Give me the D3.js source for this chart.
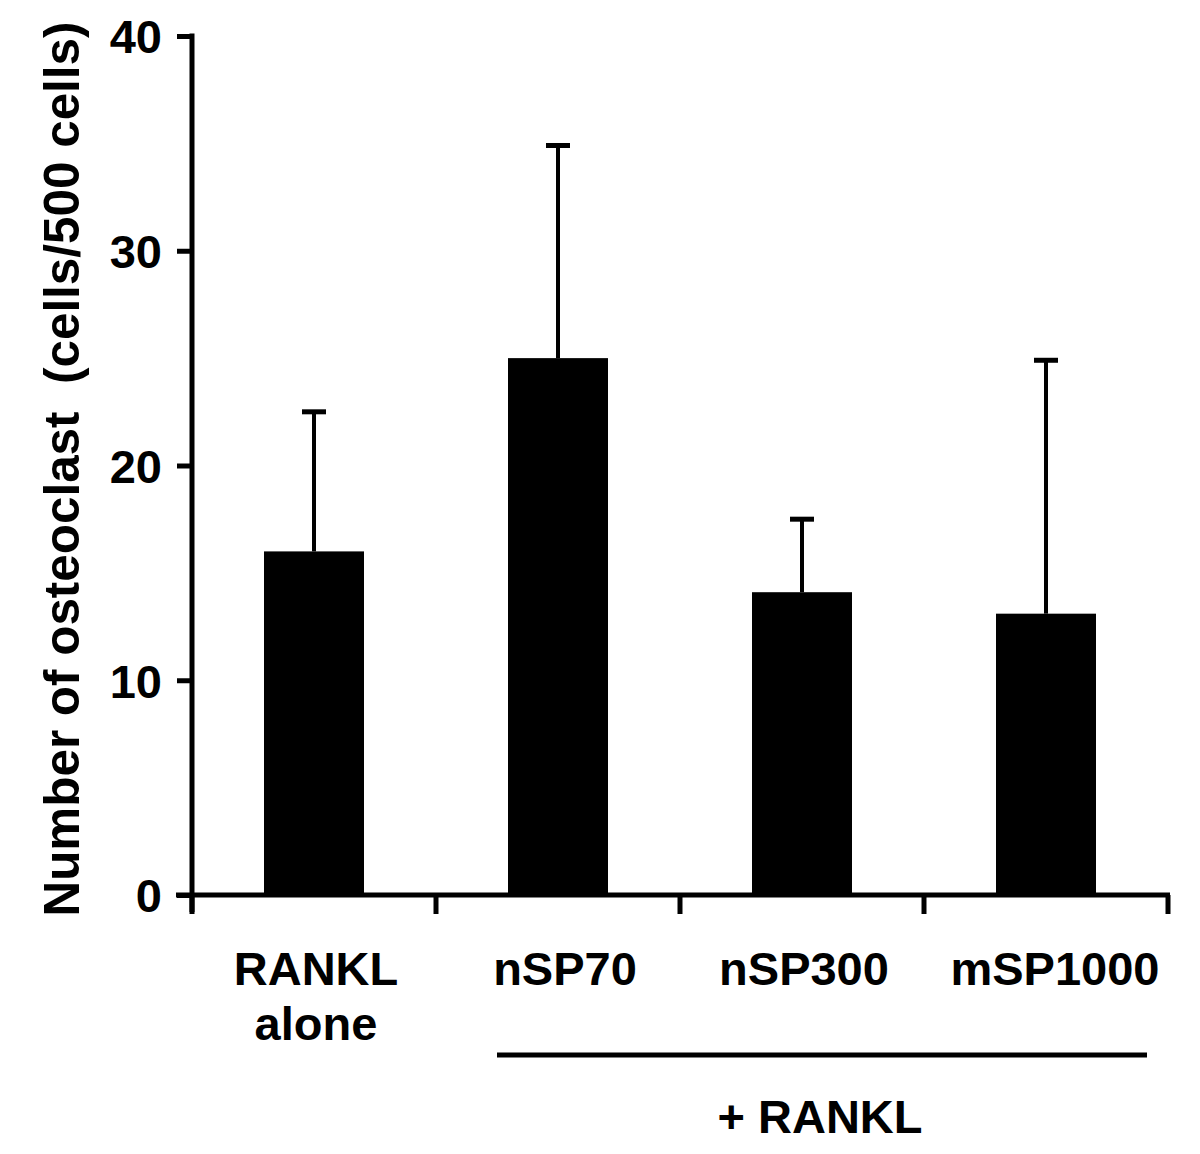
<!DOCTYPE html>
<html><head><meta charset="utf-8">
<script src="https://cdn.jsdelivr.net/npm/d3@7"></script>
<style>body{margin:0;background:#fff}</style>
</head><body>
<script>
const categories = ["RANKL alone", "nSP70", "nSP300", "mSP1000"];
const labelLines = [["RANKL", "alone"], ["nSP70"], ["nSP300"], ["mSP1000"]];
const means = [16, 25, 14.1, 13.1];
const errors = [6.5, 9.9, 3.4, 11.8];
const yTicks = [0, 10, 20, 30, 40];
const yTitle = "Number of osteoclast\u00a0\u00a0(cells/500 cells)";
const groupLabel = "+ RANKL";

const W = 1200, H = 1154;
const svg = d3.select("body").append("svg").attr("width", W).attr("height", H);
const font = "'Liberation Sans', Arial, sans-serif";

const x = d3.scaleBand().domain(categories).range([192, 1168]).padding(0);
const y = d3.scaleLinear().domain([0, 40]).range([895, 36]);
const barW = 100;
const labelShift = [2, 7, 2, 9];

// bars
svg.selectAll("rect.bar").data(categories).enter().append("rect")
  .attr("x", (d) => x(d) + x.bandwidth() / 2 - barW / 2)
  .attr("y", (d, i) => y(means[i]))
  .attr("width", barW)
  .attr("height", (d, i) => y(0) - y(means[i]))
  .attr("fill", "#000");

// error bars
categories.forEach((c, i) => {
  const cx = x(c) + x.bandwidth() / 2;
  svg.append("line").attr("x1", cx).attr("x2", cx)
    .attr("y1", y(means[i])).attr("y2", y(means[i] + errors[i]))
    .attr("stroke", "#000").attr("stroke-width", 4);
  svg.append("line").attr("x1", cx - 12).attr("x2", cx + 12)
    .attr("y1", y(means[i] + errors[i])).attr("y2", y(means[i] + errors[i]))
    .attr("stroke", "#000").attr("stroke-width", 5);
});

// y axis
const yAxis = d3.axisLeft(y).tickValues(yTicks).tickSize(15).tickPadding(15);
const gy = svg.append("g").attr("transform", "translate(192,0)").call(yAxis);
gy.select(".domain").attr("d", "M0," + (y(40) - 2.5) + "V" + 912).attr("stroke-width", 5).attr("stroke", "#000");
gy.selectAll(".tick line").attr("stroke-width", 5).attr("stroke", "#000");
gy.selectAll(".tick text").attr("font-family", font).attr("font-weight", "bold")
  .attr("font-size", 47).attr("fill", "#000").attr("dy", "0.36em");

// x axis
const bounds = categories.map((c) => x(c)).concat([x.range()[1]]);
svg.append("line").attr("x1", 176).attr("x2", 1170).attr("y1", 895).attr("y2", 895)
  .attr("stroke", "#000").attr("stroke-width", 5);
bounds.forEach((b) => {
  svg.append("line").attr("x1", b).attr("x2", b).attr("y1", 895).attr("y2", 914)
    .attr("stroke", "#000").attr("stroke-width", 5);
});

// x labels
labelLines.forEach((lines, i) => {
  const cx = x(categories[i]) + x.bandwidth() / 2 + labelShift[i];
  lines.forEach((t, j) => {
    svg.append("text").attr("x", cx).attr("y", 985 + j * 55)
      .attr("text-anchor", "middle").attr("font-family", font).attr("font-weight", "bold")
      .attr("font-size", 47).attr("fill", "#000").text(t);
  });
});

// group line and label
svg.append("line").attr("x1", 497).attr("x2", 1147).attr("y1", 1055).attr("y2", 1055)
  .attr("stroke", "#000").attr("stroke-width", 5);
svg.append("text").attr("x", 820).attr("y", 1133).attr("text-anchor", "middle")
  .attr("font-family", font).attr("font-weight", "bold").attr("font-size", 47)
  .attr("fill", "#000").text(groupLabel);

// y title
svg.append("text").attr("transform", "translate(79,469) rotate(-90)")
  .attr("text-anchor", "middle").attr("font-family", font).attr("font-weight", "bold")
  .attr("font-size", 50).attr("fill", "#000")
  .attr("textLength", 895).attr("lengthAdjust", "spacingAndGlyphs")
  .text(yTitle);
</script>
</body></html>
